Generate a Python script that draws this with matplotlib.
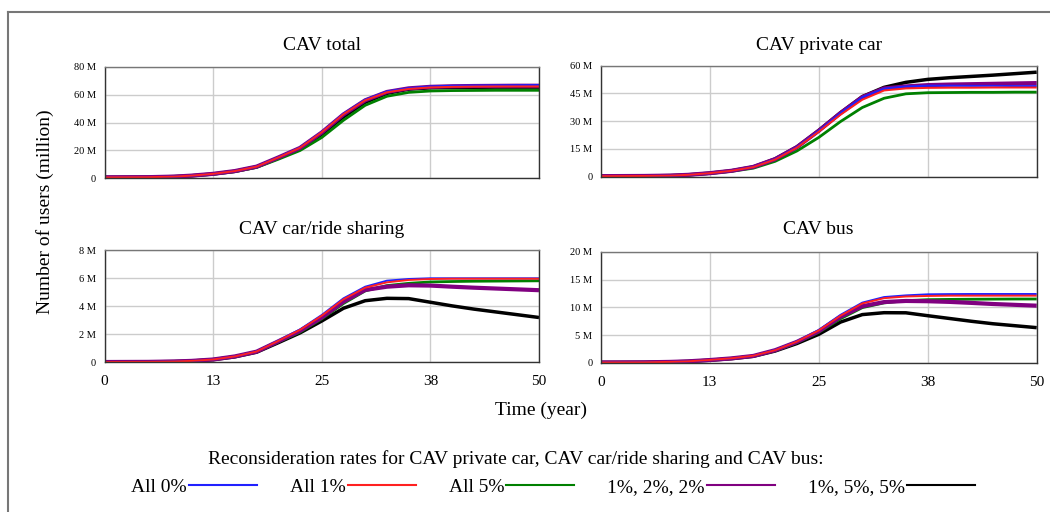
import matplotlib
matplotlib.use("Agg")
import matplotlib.pyplot as plt
from matplotlib.lines import Line2D

plt.rcParams['font.family'] = ['Liberation Serif', 'DejaVu Serif']

# Simulation years (read points)
years = [0, 5, 8, 10, 12.5, 15, 17.5, 20, 22.5, 25, 27.5, 30, 32.5, 35, 37.5, 40, 42.5, 45, 47.5, 50]

# CAV total (million users)
total_all0 = [0.5, 0.6, 1.0, 1.7, 3.0, 5.0, 8.3, 15.0, 22.0, 33.3, 46.4, 56.5, 62.4, 64.8, 66.0, 66.5, 66.7, 66.8, 66.9, 67.0]
total_all1 = [0.5, 0.6, 1.0, 1.7, 3.0, 5.0, 8.2, 14.8, 21.8, 33.0, 46.0, 56.0, 61.8, 64.2, 65.3, 65.7, 65.9, 66.0, 66.0, 66.0]
total_all5 = [0.4, 0.5, 0.9, 1.5, 2.7, 4.6, 7.6, 13.5, 19.8, 29.2, 41.6, 52.4, 58.9, 61.7, 62.7, 63.0, 63.1, 63.2, 63.2, 63.2]
total_122 = [0.5, 0.6, 1.0, 1.7, 3.0, 5.0, 8.2, 14.8, 21.7, 32.8, 45.8, 56.0, 62.0, 64.6, 65.7, 66.1, 66.3, 66.4, 66.5, 66.5]
total_155 = [0.5, 0.6, 1.0, 1.6, 2.9, 4.8, 8.0, 14.3, 21.0, 31.5, 44.0, 54.5, 61.0, 64.0, 65.0, 65.3, 65.4, 65.5, 65.5, 65.5]

# CAV private car
private_all0 = [0.3, 0.4, 0.6, 1.0, 1.9, 3.2, 5.3, 9.5, 16.0, 24.8, 34.4, 43.0, 47.6, 48.8, 49.2, 49.2, 49.1, 49.1, 49.0, 49.0]
private_all1 = [0.3, 0.4, 0.6, 1.0, 1.9, 3.2, 5.2, 9.3, 15.7, 24.3, 33.5, 41.6, 46.6, 47.7, 48.0, 48.1, 48.1, 48.2, 48.2, 48.2]
private_all5 = [0.2, 0.3, 0.5, 0.9, 1.7, 2.9, 4.6, 8.3, 13.9, 21.2, 29.8, 37.4, 42.4, 44.8, 45.4, 45.5, 45.6, 45.6, 45.7, 45.7]
private_122 = [0.3, 0.4, 0.6, 1.0, 1.9, 3.2, 5.3, 9.5, 16.0, 24.8, 34.4, 43.0, 47.7, 48.8, 49.5, 49.8, 50.0, 50.2, 50.4, 50.6]
private_155 = [0.3, 0.4, 0.6, 1.0, 1.9, 3.2, 5.3, 9.6, 16.1, 25.0, 34.6, 43.3, 48.3, 51.0, 52.6, 53.5, 54.2, 54.9, 55.7, 56.5]

# CAV car/ride sharing
sharing_all0 = [0.02, 0.03, 0.06, 0.1, 0.2, 0.42, 0.78, 1.55, 2.35, 3.38, 4.57, 5.4, 5.83, 5.95, 6.0, 6.0, 6.0, 6.0, 6.0, 6.0]
sharing_all1 = [0.02, 0.03, 0.06, 0.1, 0.2, 0.42, 0.77, 1.53, 2.32, 3.33, 4.5, 5.33, 5.71, 5.88, 5.95, 5.97, 5.97, 5.97, 5.97, 5.97]
sharing_all5 = [0.02, 0.03, 0.05, 0.09, 0.19, 0.4, 0.74, 1.45, 2.15, 3.1, 4.2, 5.1, 5.48, 5.64, 5.74, 5.77, 5.79, 5.8, 5.81, 5.82]
sharing_122 = [0.02, 0.03, 0.06, 0.1, 0.2, 0.42, 0.76, 1.5, 2.25, 3.2, 4.33, 5.17, 5.4, 5.5, 5.48, 5.4, 5.33, 5.27, 5.21, 5.15]
sharing_155 = [0.02, 0.03, 0.05, 0.09, 0.19, 0.39, 0.72, 1.4, 2.1, 2.95, 3.86, 4.4, 4.57, 4.55, 4.29, 4.03, 3.8, 3.6, 3.4, 3.2]

# CAV bus
bus_all0 = [0.1, 0.12, 0.2, 0.3, 0.55, 0.85, 1.3, 2.35, 3.9, 5.93, 8.65, 10.85, 11.85, 12.15, 12.34, 12.38, 12.4, 12.4, 12.4, 12.4]
bus_all1 = [0.1, 0.12, 0.2, 0.3, 0.55, 0.85, 1.3, 2.3, 3.85, 5.85, 8.5, 10.7, 11.65, 11.95, 12.05, 12.1, 12.1, 12.1, 12.1, 12.1]
bus_all5 = [0.1, 0.12, 0.19, 0.28, 0.5, 0.8, 1.22, 2.2, 3.65, 5.5, 7.95, 9.95, 10.8, 11.2, 11.38, 11.43, 11.46, 11.48, 11.5, 11.5]
bus_122 = [0.1, 0.12, 0.2, 0.3, 0.53, 0.83, 1.27, 2.3, 3.8, 5.7, 8.3, 10.2, 10.95, 11.15, 11.1, 10.98, 10.8, 10.6, 10.45, 10.3]
bus_155 = [0.1, 0.12, 0.19, 0.28, 0.5, 0.78, 1.2, 2.15, 3.5, 5.15, 7.35, 8.7, 9.04, 9.02, 8.5, 8.0, 7.5, 7.05, 6.7, 6.35]

scenario_names = ["All 0%", "All 1%", "All 5%", "1%, 2%, 2%", "1%, 5%, 5%"]
scenario_colors = ["#2020ff", "#ff2020", "#008000", "#800080", "#000000"]
scenario_widths = [1.4, 1.4, 2.0, 3.0, 2.5]
draw_order = [4, 2, 3, 0, 1]

panel_titles = ["CAV total", "CAV private car", "CAV car/ride sharing", "CAV bus"]
panel_data = [
    [total_all0, total_all1, total_all5, total_122, total_155],
    [private_all0, private_all1, private_all5, private_122, private_155],
    [sharing_all0, sharing_all1, sharing_all5, sharing_122, sharing_155],
    [bus_all0, bus_all1, bus_all5, bus_122, bus_155],
]
panel_yticks = [[0, 20, 40, 60, 80], [0, 15, 30, 45, 60], [0, 2, 4, 6, 8], [0, 5, 10, 15, 20]]
xticks = [0, 12.5, 25, 37.5, 50]
xtick_labels = ["0", "13", "25", "38", "50"]

W, H = 1050, 512
fig = plt.figure(figsize=(10.5, 5.12), dpi=100)

# axes boxes in pixels: left, top, right, bottom
boxes = [(104.5, 67, 539, 178), (600.7, 65.7, 1036.7, 176.7),
         (104.5, 250.3, 539, 362.3), (600.7, 251.7, 1036.7, 363)]
title_pos = [(321.7, 46), (818.7, 45), (321.7, 229), (818.7, 230)]

for i in range(4):
    l, t, r, b = boxes[i]
    ax = fig.add_axes([l / W, 1 - b / H, (r - l) / W, (b - t) / H])
    for k in draw_order:
        ax.plot(years, panel_data[i][k], color=scenario_colors[k],
                lw=scenario_widths[k], solid_capstyle='butt')
    ax.set_xlim(0, 50)
    yt = panel_yticks[i]
    ax.set_ylim(yt[0], yt[-1])
    ax.set_yticks(yt)
    ax.set_yticklabels(["0"] + ["%d M" % v for v in yt[1:]], fontsize=7.5)
    ax.set_xticks(xticks)
    if i >= 2:
        ax.set_xticklabels(xtick_labels, fontsize=11)
    else:
        ax.set_xticklabels([])
    ax.tick_params(length=0, pad=6)
    ax.tick_params(axis='x', pad=9)
    ax.grid(True, color="#cccccc", lw=1)
    ax.set_axisbelow(True)
    for s in ax.spines.values():
        s.set_color("#333333")
        s.set_linewidth(1)
    ax.spines['top'].set_color("#777777")
    fig.text(title_pos[i][0] / W, 1 - title_pos[i][1] / H, panel_titles[i],
             ha='center', va='center', fontsize=14)

fig.text(45 / W, 1 - 212 / H, "Number of users (million)", rotation=90,
         ha='center', va='center', fontsize=14)
fig.text(541 / W, 1 - 410 / H, "Time (year)", ha='center', va='center', fontsize=14)

# outer frame (top and left edges)
fig.add_artist(Line2D([8 / W, 8 / W], [0, 1 - 12 / H], color="#777777", lw=1.5))
fig.add_artist(Line2D([8 / W, 1], [1 - 12 / H, 1 - 12 / H], color="#777777", lw=1.5))

# legend: heading line, then one row of scenarios
fig.text(516 / W, 1 - 459 / H,
         "Reconsideration rates for CAV private car, CAV car/ride sharing and CAV bus:",
         ha='center', va='center', fontsize=14)
handles = [Line2D([], [], color=scenario_colors[k], lw=1.5) for k in range(5)]
fig.legend(handles, scenario_names, loc='center', bbox_to_anchor=(553 / W, 1 - 487 / H),
           ncol=5, frameon=False, markerfirst=False, fontsize=14,
           handlelength=3.5, handletextpad=0.1, columnspacing=1.7,
           borderpad=0, borderaxespad=0)

fig.savefig("out.png", dpi=100)
